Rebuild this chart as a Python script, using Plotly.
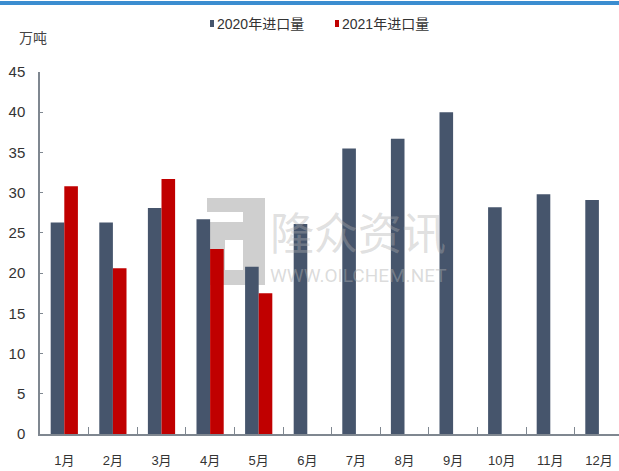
import plotly.graph_objects as go

# Monthly import volume (10k tonnes)
months = ["1月", "2月", "3月", "4月", "5月", "6月", "7月", "8月", "9月", "10月", "11月", "12月"]
imports_2020 = [26.3, 26.3, 28.1, 26.7, 20.8, 26.1, 35.5, 36.7, 40.0, 28.2, 29.8, 29.1]
imports_2021 = [30.8, 20.6, 31.7, 23.0, 17.5, None, None, None, None, None, None, None]
y_ticks = [0, 5, 10, 15, 20, 25, 30, 35, 40, 45]
series_names = ["2020年进口量", "2021年进口量"]
series_colors = ["#46556C", "#C00000"]

W, H = 619, 471
ML, MR, MT, MB = 40, 0, 72, 37
PW, PH = W - ML - MR, H - MT - MB

def px(x):
    return (x - ML) / PW

def py(y):
    return (H - MB - y) / PH

CJK = "Noto Sans CJK SC"
NUM = "Liberation Sans Narrow, Liberation Sans, " + CJK

fig = go.Figure()
for name, vals, col in zip(series_names, [imports_2020, imports_2021], series_colors):
    fig.add_trace(go.Bar(x=months, y=vals, name=name, showlegend=False,
                         marker=dict(color=col, line=dict(width=0))))

shapes = []
# blue band across the top
shapes.append(dict(type="rect", xref="paper", yref="paper", x0=px(0), x1=px(W),
                   y0=py(5), y1=py(1), fillcolor="#3B8DD0", line=dict(width=0), layer="above"))
# watermark logo
gray = "rgba(195,195,195,0.8)"
shapes.append(dict(type="rect", xref="paper", yref="paper", x0=px(207), x1=px(265),
                   y0=py(285), y1=py(198), fillcolor=gray, line=dict(width=0), layer="below"))
for (a, b, c, d) in [(207, 212, 243, 222), (225, 240, 243, 270)]:
    shapes.append(dict(type="rect", xref="paper", yref="paper", x0=px(a), x1=px(c),
                       y0=py(d), y1=py(b), fillcolor="white", line=dict(width=0), layer="below"))

annotations = [
    dict(text="万吨", x=px(17), y=py(37), xref="paper", yref="paper", xanchor="left",
         yanchor="middle", showarrow=False, font=dict(family=CJK, size=14, color="#444")),
    dict(text="隆众资讯", x=px(358), y=py(231), xref="paper", yref="paper", xanchor="center",
         yanchor="middle", showarrow=False,
         font=dict(family=CJK, size=44, color="rgba(175,175,175,0.4)")),
    dict(text="WWW.OILCHEM.NET", x=px(358), y=py(275), xref="paper", yref="paper",
         xanchor="center", yanchor="middle", showarrow=False,
         font=dict(family="Liberation Sans Narrow, Roboto", size=19, color="rgba(175,175,175,0.45)")),
]

# legend: small colour swatch followed by series name
for name, col, sx in zip(series_names, series_colors, [210, 335]):
    shapes.append(dict(type="rect", xref="paper", yref="paper", x0=px(sx), x1=px(sx + 4),
                       y0=py(27), y1=py(20), fillcolor=col, line=dict(width=0), layer="above"))
    annotations.append(dict(text=name, x=px(sx + 5), y=py(23.5), xref="paper", yref="paper",
                            xanchor="left", yanchor="middle", showarrow=False,
                            font=dict(family=NUM, size=14, color="#333")))

fig.update_layout(
    width=W, height=H,
    margin=dict(l=ML, r=MR, t=MT, b=MB, pad=0),
    paper_bgcolor="white", plot_bgcolor="white",
    barmode="group", bargap=0.44, bargroupgap=0,
    showlegend=False,
    shapes=shapes, annotations=annotations,
    xaxis=dict(type="category", range=[-0.5, -0.5 + PW / 48.6], showgrid=False,
               showline=True, linecolor="#7F8790", linewidth=1.5,
               ticks="inside", tickson="boundaries", ticklen=7, tickcolor="#7F8790",
               tickfont=dict(family=NUM, size=13, color="#333"), ticklabelstandoff=14,
               zeroline=False),
    yaxis=dict(range=[0, 45], tickvals=y_ticks, showgrid=False, showline=True,
               linecolor="#7F8790", linewidth=1.5, ticks="inside", ticklen=3,
               tickcolor="#7F8790", tickfont=dict(family=NUM, size=15, color="#333"),
               ticklabelstandoff=10, zeroline=False),
)

fig.write_html("out.html")
